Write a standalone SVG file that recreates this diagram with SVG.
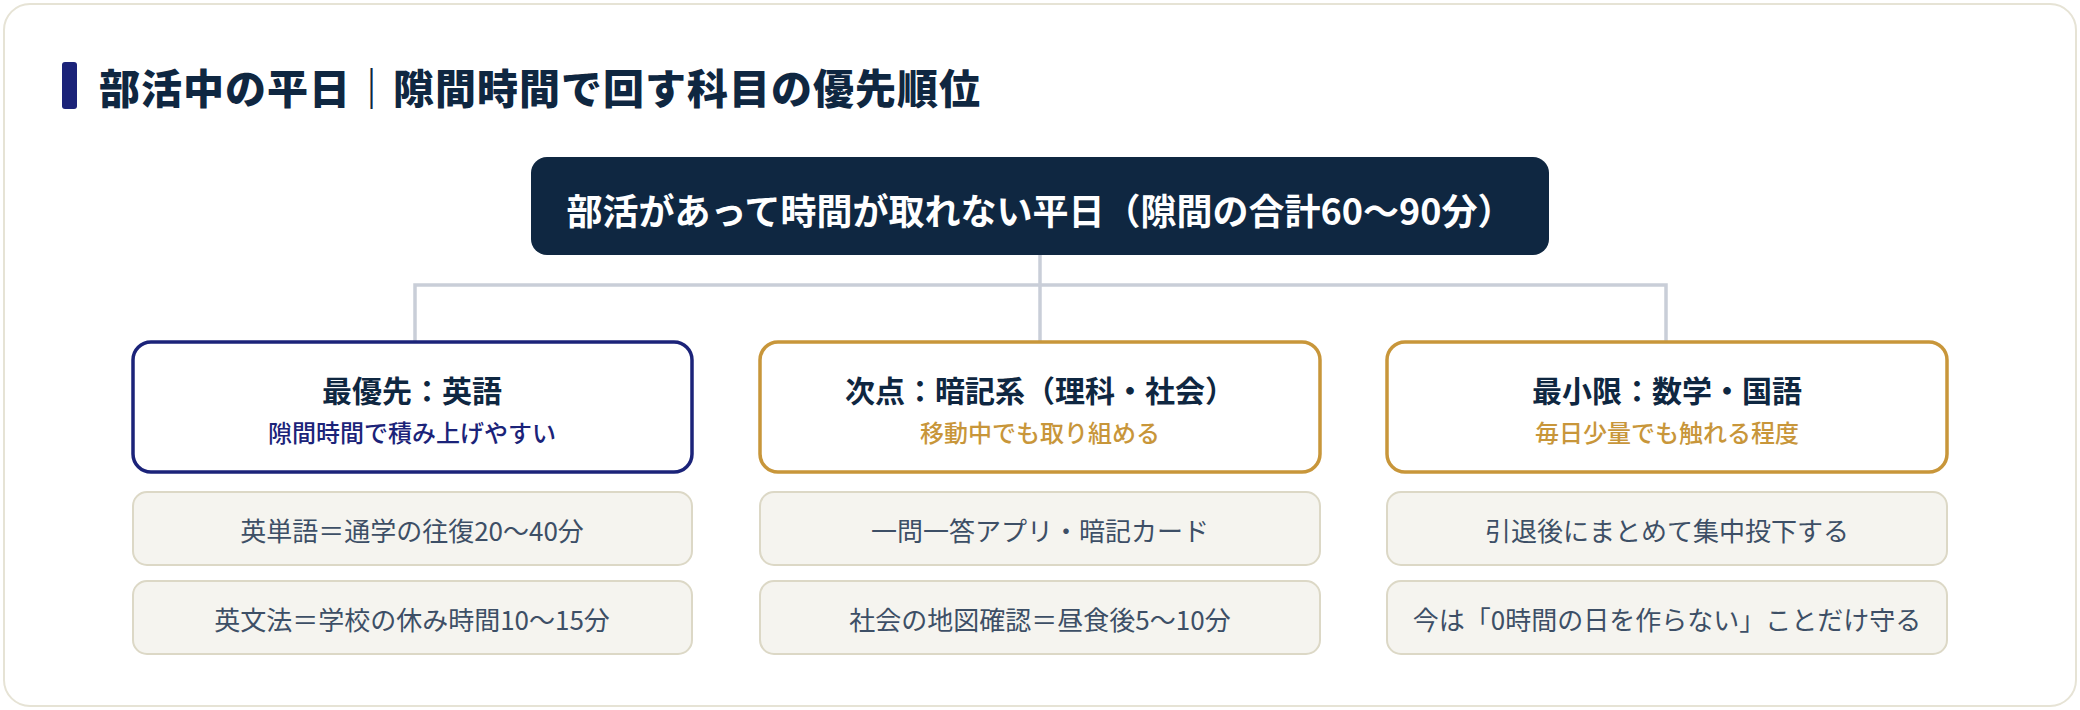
<svg xmlns="http://www.w3.org/2000/svg" width="2080" height="710" viewBox="0 0 2080 710">
  <style>
    text { font-family: "Noto Sans CJK JP", "Noto Sans", sans-serif; text-anchor: middle; }
    .title { font-size: 41px; font-weight: 900; fill: #0f2741; text-anchor: start; letter-spacing: 1px; }
    .root-box { fill: #0f2741; }
    .root-text { font-size: 36px; font-weight: 700; fill: #ffffff; }
    .cat { fill: #ffffff; stroke-width: 3.5; }
    .cat-navy { stroke: #1b2379; }
    .cat-gold { stroke: #c8963a; }
    .cat-title { font-size: 30px; font-weight: 700; fill: #0f2741; }
    .sub { font-size: 24px; font-weight: 500; }
    .sub-navy { fill: #1b2379; }
    .sub-gold { fill: #c8963a; }
    .item { fill: #f5f4ef; stroke: #dcd8c6; stroke-width: 2; }
    .item-text { font-size: 26px; font-weight: 400; fill: #3d4f66; }
    .conn { stroke: #c9ced8; stroke-width: 3.5; fill: none; }
  </style>
  <rect x="4" y="4" width="2072" height="702" rx="26" fill="#ffffff" stroke="#e6e3d5" stroke-width="2"/>
  <g id="title">
    <rect x="62" y="62" width="15" height="47" rx="3" fill="#1b2379"/>
    <text class="title" x="99" y="104">部活中の平日｜隙間時間で回す科目の優先順位</text>
  </g>
  <g id="connectors">
    <line class="conn" x1="1040" y1="255" x2="1040" y2="342"/>
    <polyline class="conn" points="415,342 415,285 1666,285 1666,342"/>
  </g>
  <g id="root">
    <rect class="root-box" x="531" y="157" width="1018" height="98" rx="16"/>
    <text class="root-text" x="1040" y="225">部活があって時間が取れない平日（隙間の合計60〜90分）</text>
  </g>
  <g id="cat-english">
    <rect class="cat cat-navy" x="133" y="342" width="559" height="130" rx="18"/>
    <text class="cat-title" x="412" y="402">最優先：英語</text>
    <text class="sub sub-navy" x="412" y="442">隙間時間で積み上げやすい</text>
  </g>
  <g id="cat-memory">
    <rect class="cat cat-gold" x="760" y="342" width="560" height="130" rx="18"/>
    <text class="cat-title" x="1040" y="402">次点：暗記系（理科・社会）</text>
    <text class="sub sub-gold" x="1040" y="442">移動中でも取り組める</text>
  </g>
  <g id="cat-math">
    <rect class="cat cat-gold" x="1387" y="342" width="560" height="130" rx="18"/>
    <text class="cat-title" x="1667" y="402">最小限：数学・国語</text>
    <text class="sub sub-gold" x="1667" y="442">毎日少量でも触れる程度</text>
  </g>
  <g id="item-e1">
    <rect class="item" x="133" y="492" width="559" height="73" rx="14"/>
    <text class="item-text" x="412" y="541">英単語＝通学の往復20〜40分</text>
  </g>
  <g id="item-e2">
    <rect class="item" x="133" y="581" width="559" height="73" rx="14"/>
    <text class="item-text" x="412" y="630">英文法＝学校の休み時間10〜15分</text>
  </g>
  <g id="item-m1">
    <rect class="item" x="760" y="492" width="560" height="73" rx="14"/>
    <text class="item-text" x="1040" y="541">一問一答アプリ・暗記カード</text>
  </g>
  <g id="item-m2">
    <rect class="item" x="760" y="581" width="560" height="73" rx="14"/>
    <text class="item-text" x="1040" y="630">社会の地図確認＝昼食後5〜10分</text>
  </g>
  <g id="item-s1">
    <rect class="item" x="1387" y="492" width="560" height="73" rx="14"/>
    <text class="item-text" x="1667" y="541">引退後にまとめて集中投下する</text>
  </g>
  <g id="item-s2">
    <rect class="item" x="1387" y="581" width="560" height="73" rx="14"/>
    <text class="item-text" x="1667" y="630">今は「0時間の日を作らない」ことだけ守る</text>
  </g>
</svg>
